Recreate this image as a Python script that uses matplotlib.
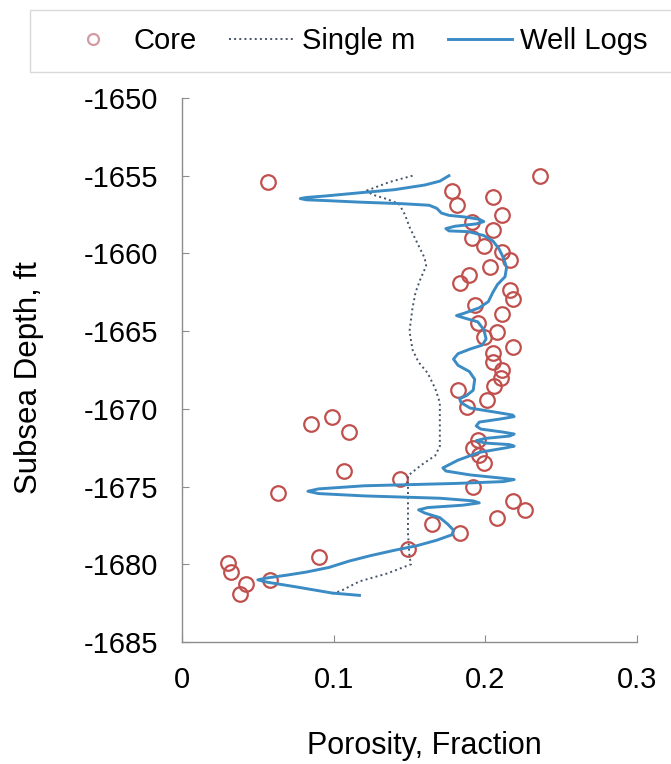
import numpy as np
import matplotlib
matplotlib.use('Agg')
import matplotlib.pyplot as plt
from matplotlib.patches import Rectangle

plt.rcParams['font.family'] = ['Liberation Sans', 'DejaVu Sans']
plt.rcParams['axes.unicode_minus'] = False

# core porosity samples (porosity, subsea depth)
core_phi = [0.057, 0.236, 0.178, 0.205, 0.181, 0.211, 0.191, 0.205, 0.191, 0.199,
            0.211, 0.216, 0.203, 0.189, 0.183, 0.216, 0.218, 0.193, 0.211, 0.195,
            0.208, 0.218, 0.199, 0.205, 0.205, 0.211, 0.210, 0.206, 0.182, 0.201,
            0.188, 0.195, 0.192, 0.196, 0.199, 0.144, 0.192, 0.218, 0.226, 0.208,
            0.165, 0.183, 0.149, 0.085, 0.099, 0.110, 0.107, 0.063, 0.090, 0.030,
            0.032, 0.058, 0.042, 0.038]
core_depth = [-1655.4, -1655.0, -1656.0, -1656.4, -1656.9, -1657.5, -1658.0, -1658.5, -1659.0, -1659.5,
              -1659.9, -1660.4, -1660.9, -1661.4, -1661.9, -1662.35, -1662.9, -1663.3, -1663.9, -1664.5,
              -1665.05, -1666.0, -1665.4, -1666.4, -1667.0, -1667.5, -1668.0, -1668.5, -1668.8, -1669.4,
              -1669.9, -1672.0, -1672.5, -1673.0, -1673.5, -1674.5, -1675.0, -1675.9, -1676.5, -1677.0,
              -1677.4, -1678.0, -1679.0, -1671.0, -1670.5, -1671.5, -1674.0, -1675.4, -1679.5, -1679.9,
              -1680.5, -1681.0, -1681.3, -1681.9]

# single m model
sm_phi = [0.152, 0.137, 0.122, 0.125, 0.135, 0.143, 0.147, 0.150, 0.155, 0.160,
          0.161, 0.157, 0.154, 0.152, 0.150, 0.152, 0.156, 0.162, 0.167, 0.170,
          0.170, 0.170, 0.167, 0.158, 0.149, 0.149, 0.149, 0.150, 0.151, 0.135,
          0.117, 0.105, 0.099]
sm_depth = [-1655.0, -1655.4, -1655.95, -1656.2, -1656.5, -1656.8, -1657.5, -1658.3, -1659.3, -1660.3,
            -1660.8, -1661.7, -1662.5, -1663.5, -1665.0, -1666.2, -1667.0, -1667.7, -1668.7, -1669.6,
            -1671.0, -1672.4, -1673.0, -1673.6, -1674.3, -1676.0, -1678.0, -1679.5, -1680.0, -1680.6,
            -1681.1, -1681.7, -1681.9]

# well log porosity
wl_phi = [0.176, 0.170, 0.160, 0.140, 0.117, 0.095, 0.082, 0.078, 0.082, 0.095,
          0.117, 0.145, 0.163, 0.168, 0.171, 0.176, 0.186, 0.196, 0.199, 0.194,
          0.180, 0.174, 0.176, 0.189, 0.199, 0.205, 0.209, 0.212, 0.214, 0.213,
          0.208, 0.205, 0.202, 0.196, 0.186, 0.181, 0.186, 0.195, 0.199, 0.2005,
          0.198, 0.190, 0.182, 0.179, 0.182, 0.1895, 0.193, 0.192, 0.1875, 0.183,
          0.184, 0.190, 0.209, 0.218, 0.219, 0.210, 0.196, 0.194, 0.197, 0.212,
          0.219, 0.216, 0.200, 0.194, 0.200, 0.216, 0.219, 0.214, 0.196, 0.182,
          0.172, 0.174, 0.190, 0.210, 0.219, 0.212, 0.180, 0.120, 0.090, 0.083,
          0.090, 0.120, 0.170, 0.192, 0.196, 0.185, 0.162, 0.156, 0.160, 0.170,
          0.175, 0.179, 0.178, 0.168, 0.155, 0.140, 0.124, 0.110, 0.097, 0.082,
          0.069, 0.056, 0.050, 0.056, 0.075, 0.099, 0.117]
wl_depth = [-1655.0, -1655.35, -1655.6, -1655.9, -1656.1, -1656.3, -1656.4, -1656.47, -1656.55, -1656.6,
            -1656.7, -1656.8, -1656.9, -1657.1, -1657.4, -1657.55, -1657.65, -1657.8, -1657.95, -1658.1,
            -1658.25, -1658.4, -1658.55, -1658.6, -1658.85, -1659.2, -1659.7, -1660.3, -1660.9, -1661.5,
            -1662.0, -1662.5, -1663.1, -1663.5, -1663.85, -1664.0, -1664.15, -1664.4, -1664.9, -1665.5,
            -1665.9, -1666.15, -1666.45, -1666.8, -1667.2, -1667.6, -1668.1, -1668.8, -1669.15, -1669.35,
            -1669.6, -1669.95, -1670.25, -1670.4, -1670.5, -1670.65, -1670.85, -1671.1, -1671.3, -1671.5,
            -1671.62, -1671.75, -1671.9, -1672.05, -1672.2, -1672.3, -1672.4, -1672.5, -1672.8, -1673.3,
            -1673.8, -1674.0, -1674.25, -1674.45, -1674.55, -1674.68, -1674.8, -1674.95, -1675.15, -1675.3,
            -1675.45, -1675.6, -1675.75, -1675.92, -1676.05, -1676.2, -1676.35, -1676.5, -1676.7, -1677.0,
            -1677.4, -1677.8, -1678.1, -1678.45, -1678.8, -1679.1, -1679.45, -1679.8, -1680.2, -1680.5,
            -1680.7, -1680.88, -1681.0, -1681.15, -1681.45, -1681.85, -1682.0]

fig = plt.figure(figsize=(6.71, 7.64), dpi=100)
ax = fig.add_axes([182 / 671, 1 - 642 / 764, 455 / 671, 544 / 764])

h_core, = ax.plot(core_phi, core_depth, 'o', ls='none', mfc='none', mec='#c0504d',
                  ms=10.5, mew=1.6, label='Core')
h_sm, = ax.plot(sm_phi, sm_depth, ls=':', color='#44546a', lw=1.4, label='Single m')
h_wl, = ax.plot(wl_phi, wl_depth, '-', color='#3b8bc4', lw=2.1, label='Well Logs')

ax.set_xlim(0, 0.3)
ax.set_ylim(-1685, -1650)
ax.set_xticks([0, 0.1, 0.2, 0.3])
ax.set_xticklabels(['0', '0.1', '0.2', '0.3'])
ax.set_yticks(np.arange(-1685, -1649, 5))

for s in ['top', 'right']:
    ax.spines[s].set_visible(False)
for s in ['left', 'bottom']:
    ax.spines[s].set_color('#8c8c8c')
    ax.spines[s].set_linewidth(1.0)
ax.tick_params(direction='in', length=5, color='#8c8c8c', labelsize=21)
ax.tick_params(axis='y', pad=17)
ax.tick_params(axis='x', pad=17)

ax.set_xlabel('Porosity, Fraction', fontsize=22)
ax.set_ylabel('Subsea Depth, ft', fontsize=22.5)
ax.xaxis.set_label_coords(0.532, -0.163)
ax.yaxis.set_label_coords(-0.303, 0.487)

# legend frame runs off the right edge
fig.patches.append(Rectangle((30 / 671, 1 - 72 / 764), 700 / 671, 62 / 764,
                             transform=fig.transFigure, facecolor='white',
                             edgecolor='#d9d9d9', lw=1.0, zorder=0))
leg = fig.legend(handles=[h_core, h_sm, h_wl], loc='center left',
                 bbox_to_anchor=(61 / 671, 1 - 41 / 764), bbox_transform=fig.transFigure,
                 ncol=3, fontsize=21, frameon=False, markerscale=0.75,
                 handlelength=2.2, handletextpad=0.3, columnspacing=1.1,
                 borderpad=0, borderaxespad=0)
leg.legend_handles[0].set_markeredgecolor('#d49aa3')

fig.savefig('out.png', dpi=100)
